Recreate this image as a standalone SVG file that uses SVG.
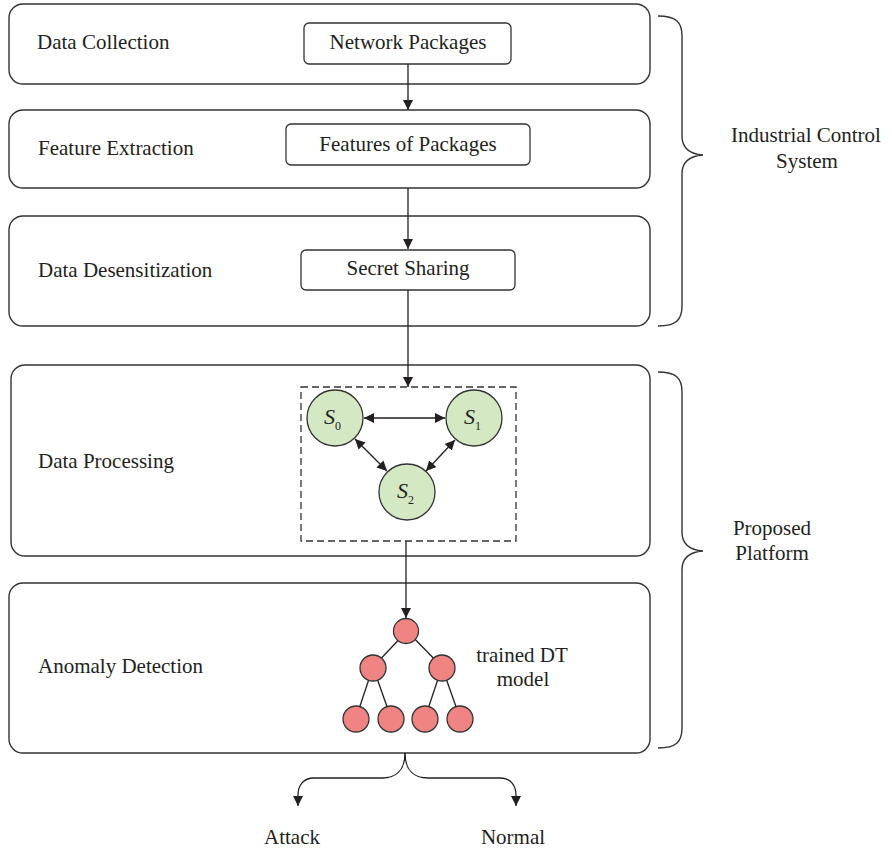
<svg xmlns="http://www.w3.org/2000/svg" width="892" height="852" viewBox="0 0 892 852">
<defs>
<marker id="ah" viewBox="0 0 10 10" refX="10" refY="5" markerWidth="10" markerHeight="10" markerUnits="userSpaceOnUse" orient="auto-start-reverse">
<path d="M0,0 L10,5 L0,10 z" fill="#231f20"/>
</marker>
<style>
.box{fill:#fff;stroke:#333;stroke-width:1.4}
.ibox{fill:#fff;stroke:#333;stroke-width:1.3}
.t{font-family:"Liberation Serif",serif;font-size:21px;fill:#231f20}
.c{text-anchor:middle}
.ln{fill:none;stroke:#231f20;stroke-width:1.3}
.sn{fill:#d5e8c4;stroke:#333;stroke-width:1.3}
.rn{fill:#f08482;stroke:#333;stroke-width:1.3}
.br{fill:none;stroke:#333;stroke-width:1.4}
.it{font-family:"Liberation Serif",serif;font-style:italic;font-size:22px;fill:#231f20}
.sub{font-family:"Liberation Serif",serif;font-size:12px;font-style:normal}
</style>
</defs>
<rect width="892" height="852" fill="#fff"/>

<g id="stage-collection">
<rect class="box" x="9" y="4" width="641" height="80" rx="14"/>
<text class="t" x="37" y="49">Data Collection</text>
</g>
<g id="network-packages">
<rect class="ibox" x="304" y="23" width="207" height="41" rx="5"/>
<text class="t c" x="408" y="49">Network Packages</text>
</g>

<g id="stage-feature">
<rect class="box" x="9" y="110" width="641" height="78" rx="14"/>
<text class="t" x="38" y="155">Feature Extraction</text>
</g>
<g id="features-of-packages">
<rect class="ibox" x="286" y="124" width="244" height="41" rx="5"/>
<text class="t c" x="408" y="151">Features of Packages</text>
</g>

<g id="stage-desensitization">
<rect class="box" x="9" y="216" width="641" height="110" rx="14"/>
<text class="t" x="38" y="277">Data Desensitization</text>
</g>
<g id="secret-sharing">
<rect class="ibox" x="301" y="250" width="214" height="40" rx="5"/>
<text class="t c" x="408" y="275">Secret Sharing</text>
</g>

<g id="stage-processing">
<rect class="box" x="11" y="365" width="639" height="191" rx="14"/>
<text class="t" x="38" y="468">Data Processing</text>
</g>
<g id="servers">
<rect x="301" y="387" width="215" height="154" fill="none" stroke="#333" stroke-width="1.3" stroke-dasharray="7,4"/>
</g>
<g id="s0">
<circle class="sn" cx="335" cy="418" r="28"/>
<text class="it" x="324" y="424">S<tspan class="sub" dy="6">0</tspan></text>
</g>
<g id="s1">
<circle class="sn" cx="474" cy="418" r="28"/>
<text class="it" x="464" y="424">S<tspan class="sub" dy="6">1</tspan></text>
</g>
<g id="s2">
<circle class="sn" cx="407" cy="492" r="28"/>
<text class="it" x="397" y="498">S<tspan class="sub" dy="6">2</tspan></text>
</g>

<g id="stage-detection">
<rect class="box" x="9" y="583" width="641" height="170" rx="14"/>
<text class="t" x="38" y="673">Anomaly Detection</text>
</g>
<g id="dt-model">
<g class="ln">
<line x1="407" y1="631" x2="373" y2="667"/>
<line x1="407" y1="631" x2="442" y2="667"/>
<line x1="373" y1="667" x2="356" y2="718"/>
<line x1="373" y1="667" x2="391" y2="718"/>
<line x1="442" y1="667" x2="425" y2="718"/>
<line x1="442" y1="667" x2="460" y2="718"/>
</g>
<circle class="rn" cx="406" cy="631" r="12.5"/>
<circle class="rn" cx="373" cy="668" r="13"/>
<circle class="rn" cx="442" cy="668" r="13"/>
<circle class="rn" cx="356" cy="719" r="13"/>
<circle class="rn" cx="391" cy="719" r="13"/>
<circle class="rn" cx="425" cy="719" r="13"/>
<circle class="rn" cx="460" cy="719" r="13"/>
<text class="t c" x="522" y="662">trained DT</text>
<text class="t c" x="523" y="686">model</text>
</g>

<g id="ics-brace">
<path class="br" d="M658,16 C676,16 682,22 682,36 L682,136 C682,148 689,154 703,155 C689,156 682,162 682,174 L682,306 C682,320 676,326 658,326"/>
<text class="t c" x="806" y="142">Industrial Control</text>
<text class="t c" x="807" y="168">System</text>
</g>
<g id="platform-brace">
<path class="br" d="M658,372 C676,372 682,378 682,392 L682,532 C682,544 689,550 703,551 C689,552 682,558 682,570 L682,728 C682,742 676,748 658,748"/>
<text class="t c" x="772" y="535">Proposed</text>
<text class="t c" x="772" y="560">Platform</text>
</g>

<g id="attack">
<text class="t c" x="292" y="844">Attack</text>
</g>
<g id="normal">
<text class="t c" x="513" y="844">Normal</text>
</g>

<g id="connectors" class="ln">
<line x1="408" y1="64" x2="408" y2="110" marker-end="url(#ah)"/>
<line x1="408" y1="188" x2="408" y2="249" marker-end="url(#ah)"/>
<line x1="408" y1="290" x2="408" y2="387" marker-end="url(#ah)"/>
<line x1="406" y1="541" x2="406" y2="618" marker-end="url(#ah)"/>
<line x1="364" y1="418" x2="445" y2="418" marker-start="url(#ah)" marker-end="url(#ah)"/>
<line x1="355" y1="439" x2="387" y2="471" marker-start="url(#ah)" marker-end="url(#ah)"/>
<line x1="455" y1="440" x2="426" y2="471" marker-start="url(#ah)" marker-end="url(#ah)"/>
<path d="M405,753 C405,770 396,778 382,778 L314,778 C303,778 298,786 298,795 L298,806" marker-end="url(#ah)"/>
<path d="M405,753 C405,770 414,778 428,778 L500,778 C511,778 516,786 516,795 L516,806" marker-end="url(#ah)"/>
</g>
</svg>
